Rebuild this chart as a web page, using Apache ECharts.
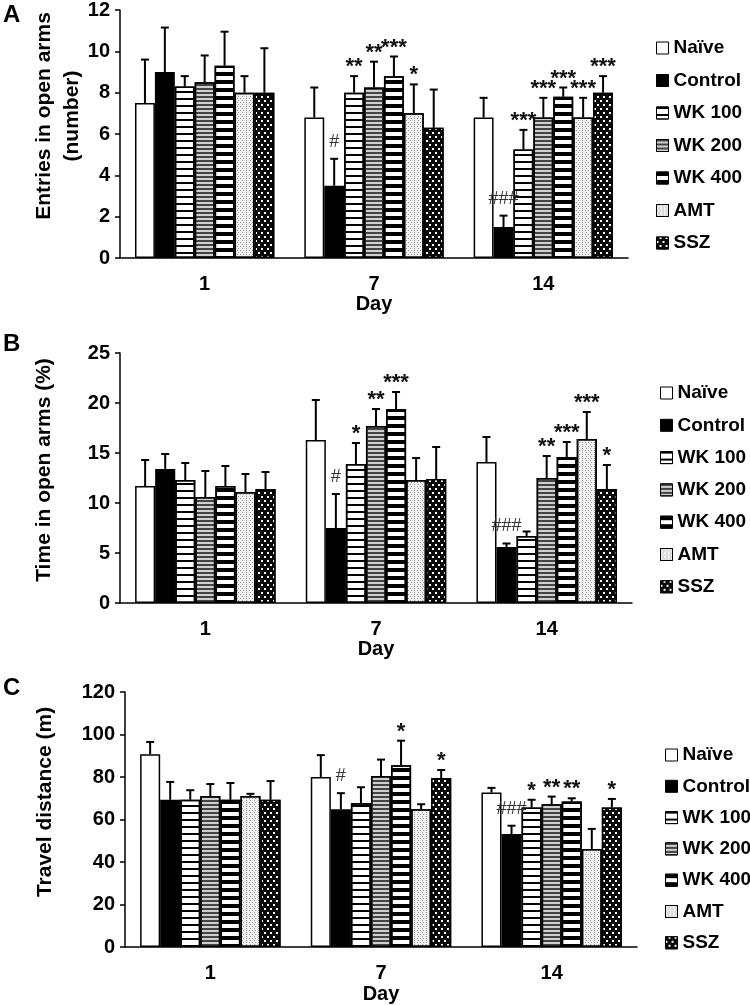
<!DOCTYPE html>
<html>
<head>
<meta charset="utf-8">
<script src="https://cdn.jsdelivr.net/npm/echarts@6/dist/echarts.min.js"></script>
<style>
html,body{margin:0;padding:0;background:#fff;}
#chart{width:750px;height:1005px;}
</style>
</head>
<body>
<div id="chart"></div>
<script>
// ---------- data ----------
const days = ['1', '7', '14'];
const groups = ['Naïve', 'Control', 'WK 100', 'WK 200', 'WK 400', 'AMT', 'SSZ'];

// Panel A: entries in open arms (number); rows = groups, cols = days
const entriesMean = [
  [7.5, 6.8, 6.8],
  [9.0, 3.5, 1.5],
  [8.3, 8.0, 5.25],
  [8.5, 8.25, 6.8],
  [9.3, 8.8, 7.8],
  [8.0, 7.0, 6.8],
  [8.0, 6.3, 8.0]
];
const entriesErr = [
  [2.1, 1.45, 0.95],
  [2.15, 1.3, 0.55],
  [0.5, 0.8, 0.95],
  [1.3, 1.25, 0.95],
  [1.65, 0.95, 0.45],
  [0.8, 1.4, 0.95],
  [2.15, 1.85, 0.8]
];
const entriesSig = [
  ['', '', ''],
  ['', '#', '###'],
  ['', '**', '***'],
  ['', '**', '***'],
  ['', '***', '***'],
  ['', '*', '***'],
  ['', '', '***']
];

// Panel B: time in open arms (%)
const timeMean = [
  [11.7, 16.3, 14.1],
  [13.4, 7.5, 5.6],
  [12.3, 13.9, 6.7],
  [10.6, 17.7, 12.5],
  [11.7, 19.4, 14.6],
  [11.1, 12.3, 16.4],
  [11.4, 12.4, 11.4]
];
const timeErr = [
  [2.6, 4.0, 2.5],
  [1.5, 3.4, 0.35],
  [1.7, 2.1, 0.45],
  [2.6, 1.7, 2.2],
  [2.0, 1.7, 1.5],
  [1.8, 2.2, 2.7],
  [1.7, 3.2, 2.4]
];
const timeSig = [
  ['', '', ''],
  ['', '#', '###'],
  ['', '*', ''],
  ['', '**', '**'],
  ['', '***', '***'],
  ['', '', '***'],
  ['', '', '*']
];

// Panel C: travel distance (m)
const distMean = [
  [90.7, 80.0, 72.7],
  [69.3, 64.9, 53.2],
  [69.3, 67.7, 65.7],
  [71.1, 80.5, 67.2],
  [69.3, 85.6, 68.5],
  [71.1, 64.9, 46.2],
  [69.3, 79.5, 65.7]
];
const distErr = [
  [5.8, 10.3, 2.2],
  [8.4, 7.5, 3.9],
  [4.5, 7.5, 3.6],
  [5.6, 7.7, 3.6],
  [7.9, 11.5, 1.5],
  [1.0, 2.3, 9.4],
  [8.8, 3.8, 4.0]
];
const distSig = [
  ['', '', ''],
  ['', '#', '###'],
  ['', '', '*'],
  ['', '', '**'],
  ['', '*', '**'],
  ['', '', ''],
  ['', '*', '*']
];

const yTitles = [['Entries in open arms', '(number)'], ['Time in open arms (%)'], ['Travel distance (m)']];
const yMax = [12, 25, 120];
const yStep = [2, 5, 20];
const panelLetters = ['A', 'B', 'C'];

// ---------- styling ----------
const FONT = '"Liberation Sans", Arial, Helvetica, sans-serif';
const GAP = 0.177;
const border = {borderColor: '#000', borderWidth: 1.5};
const hLines = (col, w, g) => ({symbol: 'rect', symbolSize: 1, color: col, dashArrayX: [1, 0], dashArrayY: [w, g]});
const styles = [
  Object.assign({color: '#ffffff'}, border),
  Object.assign({color: '#000000'}, border),
  Object.assign({color: '#ffffff', decal: hLines('#000', 2, 5)}, border),
  Object.assign({color: '#cfcfcf', decal: hLines('#444', 1.5, 2)}, border),
  Object.assign({color: '#ffffff', decal: hLines('#000', 3.5, 3.5)}, border),
  Object.assign({color: '#f0f0f0', decal: {symbol: 'rect', symbolSize: 1, color: '#9a9a9a', dashArrayX: [[1, 2], [0, 1.5, 1, 0.5]], dashArrayY: [1, 1]}}, border),
  Object.assign({color: '#0a0a0a', decal: {symbol: 'rect', symbolSize: 1, color: '#ffffff', dashArrayX: [[1.5, 3.5], [0, 2.5, 1.5, 1]], dashArrayY: [1.5, 1.5]}}, border)
];

const grids = [
  {left: 120, right: 122, top: 8, bottom: 747},
  {left: 120, right: 118, top: 353, bottom: 402},
  {left: 125, right: 113, top: 692, bottom: 56}
];
const legendPos = [
  {left: 651, top: 33, itemGap: 12.5},
  {left: 655, top: 378, itemGap: 12.3},
  {left: 660, top: 740, itemGap: 11.3}
];
const titlePos = [
  [{x: 44, y: 116}, {x: 72, y: 116}],
  [{x: 44, y: 470}],
  [{x: 45, y: 802}]
];
const letterPos = [{x: 3, y: 3}, {x: 3, y: 332}, {x: 3, y: 676}];

const means = [entriesMean, timeMean, distMean];
const errs = [entriesErr, timeErr, distErr];
const sigs = [entriesSig, timeSig, distSig];

// ---------- build option ----------
const xAxes = [], yAxes = [], series = [], legends = [], graphics = [];

for (let p = 0; p < 3; p++) {
  xAxes.push({
    type: 'category', gridIndex: p, data: days,
    name: 'Day', nameLocation: 'middle', nameGap: 35,
    nameTextStyle: {fontFamily: FONT, fontWeight: 'bold', fontSize: 20, color: '#000'},
    axisLine: {lineStyle: {color: '#000', width: 1.5}},
    axisTick: {alignWithLabel: true, length: 6, lineStyle: {color: '#000', width: 1.5}},
    axisLabel: {margin: 16, fontFamily: FONT, fontWeight: 'bold', fontSize: 20, color: '#000'},
    splitLine: {show: false}
  });
  yAxes.push({
    type: 'value', gridIndex: p, min: 0, max: yMax[p], interval: yStep[p],
    axisLine: {show: true, lineStyle: {color: '#000', width: 1.5}},
    axisTick: {show: true, length: 5, lineStyle: {color: '#000', width: 1.5}},
    axisLabel: {margin: 10, fontFamily: FONT, fontWeight: 'bold', fontSize: 20, color: '#000'},
    splitLine: {show: false}
  });
  groups.forEach((name, g) => {
    series.push({
      type: 'bar', name: name, xAxisIndex: p, yAxisIndex: p,
      data: means[p][g], barGap: '0%', barCategoryGap: (GAP * 100) + '%',
      itemStyle: styles[g], emphasis: {disabled: true}, silent: true
    });
  });
  const m = means[p], e = errs[p], s = sigs[p];
  const errData = [];
  for (let g = 0; g < 7; g++) for (let d = 0; d < 3; d++) errData.push([d, m[g][d] + e[g][d], g]);
  series.push({
    type: 'custom', xAxisIndex: p, yAxisIndex: p, z: 5, silent: true,
    data: errData, encode: {x: 0, y: 1},
    renderItem: function (params, api) {
      const d = api.value(0), g = api.value(2);
      const base = api.coord([d, m[g][d]]);
      const top = api.coord([d, m[g][d] + e[g][d]]);
      const bandW = api.size([1, 0])[0];
      const groupW = bandW * (1 - GAP);
      const bw = groupW / 7;
      const x = base[0] - groupW / 2 + bw * (g + 0.5);
      const ch = [
        {type: 'line', shape: {x1: x, y1: base[1], x2: x, y2: top[1]}, style: {stroke: '#000', lineWidth: 2}},
        {type: 'line', shape: {x1: x - 4, y1: top[1], x2: x + 4, y2: top[1]}, style: {stroke: '#000', lineWidth: 2}}
      ];
      const t = s[g][d];
      if (t) {
        const hash = t[0] === '#';
        ch.push({
          type: 'text', x: x, y: top[1] - (hash ? 17 : 9),
          style: {
            text: t, align: 'center', verticalAlign: 'middle',
            font: (hash ? 'normal 18px ' : 'bold 22px ') + FONT,
            fill: hash ? '#333' : '#111'
          }
        });
      }
      return {type: 'group', children: ch};
    }
  });
  legends.push({
    orient: 'vertical', left: legendPos[p].left, top: legendPos[p].top,
    itemGap: legendPos[p].itemGap, itemWidth: 12, itemHeight: 12, icon: 'rect',
    selectedMode: false, data: groups,
    itemStyle: {borderColor: '#000', borderWidth: 1},
    textStyle: {fontFamily: FONT, fontWeight: 'bold', fontSize: 19, color: '#000', lineHeight: 20}
  });
  yTitles[p].forEach((txt, i) => {
    graphics.push({
      type: 'text', x: titlePos[p][i].x, y: titlePos[p][i].y, rotation: Math.PI / 2,
      style: {text: txt, align: 'center', verticalAlign: 'middle', font: 'bold 21px ' + FONT, fill: '#000'}
    });
  });
  graphics.push({
    type: 'text', x: letterPos[p].x, y: letterPos[p].y,
    style: {text: panelLetters[p], align: 'left', verticalAlign: 'top', font: 'bold 24px ' + FONT, fill: '#000'}
  });
}

const chart = echarts.init(document.getElementById('chart'), null, {renderer: 'canvas'});
chart.setOption({
  animation: false,
  backgroundColor: '#fff',
  grid: grids,
  xAxis: xAxes,
  yAxis: yAxes,
  legend: legends,
  series: series,
  graphic: graphics
});
</script>
</body>
</html>
